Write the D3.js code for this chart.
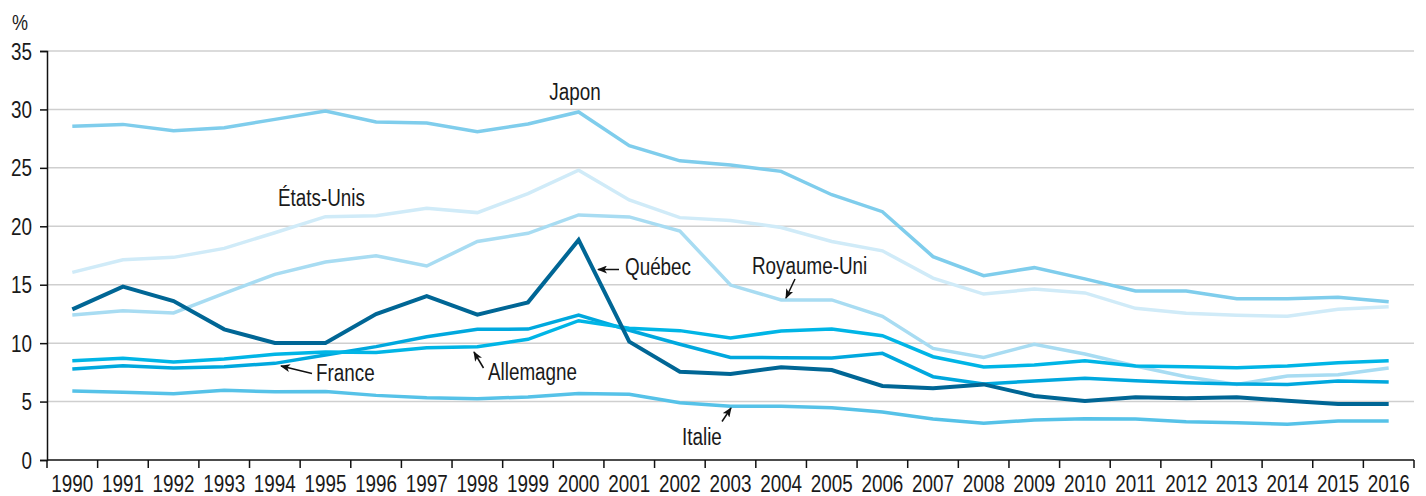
<!DOCTYPE html>
<html lang="fr">
<head>
    <meta charset="UTF-8">
    <title>Taux par pays, 1990-2016</title>
    <script src="https://d3js.org/d3.v7.min.js"></script>
    <style>
        body { margin: 0; background: #fff; }
        svg text { font-family: "Liberation Sans", Arial, sans-serif; fill: #1a1a1a; }
    </style>
</head>
<body>
    <svg id="chart" width="1426" height="496"></svg>
    <script>
        const years = d3.range(1990, 2017);
        const yTicks = [0, 5, 10, 15, 20, 25, 30, 35];

        const japon = [28.55, 28.72, 28.18, 28.44, 29.15, 29.87, 28.92, 28.84, 28.1, 28.75, 29.78, 26.9, 25.6, 25.24, 24.7, 22.7, 21.25, 17.4, 15.77, 16.46, 15.5, 14.46, 14.46, 13.8, 13.8, 13.92, 13.55];
        const etatsUnis = [16.06, 17.14, 17.34, 18.11, 19.45, 20.82, 20.9, 21.54, 21.17, 22.8, 24.8, 22.25, 20.74, 20.5, 19.9, 18.7, 17.9, 15.57, 14.2, 14.63, 14.3, 12.98, 12.55, 12.38, 12.3, 12.9, 13.12];
        const royaumeUni = [12.4, 12.78, 12.58, 14.26, 15.89, 16.94, 17.48, 16.6, 18.7, 19.4, 20.97, 20.8, 19.6, 14.97, 13.7, 13.7, 12.3, 9.55, 8.78, 9.9, 9.07, 8.04, 7.13, 6.47, 7.19, 7.3, 7.87];
        const quebec = [12.89, 14.83, 13.6, 11.18, 10.01, 10.01, 12.49, 14.03, 12.44, 13.49, 18.83, 10.13, 7.56, 7.36, 7.93, 7.7, 6.33, 6.13, 6.47, 5.48, 5.05, 5.36, 5.28, 5.36, 5.08, 4.79, 4.79];
        const allemagne = [8.5, 8.7, 8.39, 8.64, 9.04, 9.24, 9.19, 9.61, 9.7, 10.33, 11.92, 11.27, 11.07, 10.44, 11.04, 11.21, 10.64, 8.84, 7.96, 8.13, 8.5, 8.04, 7.99, 7.9, 8.04, 8.33, 8.5];
        const france = [7.79, 8.07, 7.87, 7.99, 8.27, 8.98, 9.7, 10.55, 11.18, 11.2, 12.41, 11.1, 9.9, 8.78, 8.76, 8.73, 9.13, 7.13, 6.5, 6.76, 6.99, 6.79, 6.62, 6.5, 6.47, 6.76, 6.67];
        const italie = [5.9, 5.79, 5.68, 5.96, 5.83, 5.87, 5.53, 5.33, 5.25, 5.39, 5.7, 5.62, 4.9, 4.59, 4.59, 4.48, 4.1, 3.5, 3.14, 3.42, 3.54, 3.51, 3.28, 3.19, 3.05, 3.34, 3.34];

        // drawing order: lightest at the back, Québec on top
        const series = [
            { name: 'États-Unis', values: etatsUnis, color: '#d0ebf8' },
            { name: 'Royaume-Uni', values: royaumeUni, color: '#a8dcf2' },
            { name: 'Japon', values: japon, color: '#7fcdec' },
            { name: 'Italie', values: italie, color: '#56c2e8' },
            { name: 'France', values: france, color: '#00a8de' },
            { name: 'Allemagne', values: allemagne, color: '#00b5e6' },
            { name: 'Québec', values: quebec, color: '#006695' }
        ];

        // labels: text position, optional arrow (from -> tip)
        const labels = [
            { text: 'Japon', x: 575, y: 100, anchor: 'middle' },
            { text: 'États-Unis', x: 278, y: 206 },
            { text: 'Québec', x: 625, y: 275, arrow: [619, 269.5, 598, 269.5] },
            { text: 'Royaume-Uni', x: 752, y: 274, arrow: [795, 279, 786, 298] },
            { text: 'France', x: 316, y: 381, arrow: [312, 373.5, 281, 366] },
            { text: 'Allemagne', x: 488, y: 380, arrow: [483.5, 368, 474, 352] },
            { text: 'Italie', x: 682, y: 445, arrow: [722, 421.5, 731, 408] }
        ];

        const mLeft = 47, mRight = 1414, mTop = 51, mBottom = 460;
        const narrow = 0.82; // condensed look from a regular face

        const svg = d3.select('#chart');

        const x = d3.scaleBand().domain(years).range([mLeft, mRight]).padding(0);
        const y = d3.scaleLinear().domain([0, 35]).range([mBottom, mTop]);
        const cx = d => x(d) + x.bandwidth() / 2;

        const placeText = (sel, px, py) => sel
            .attr('x', 0).attr('y', 0)
            .attr('transform', (d, i) => `translate(${px(d, i)},${py(d, i)}) scale(${narrow},1)`);

        svg.append('defs').append('marker')
            .attr('id', 'arrow')
            .attr('viewBox', '0 0 10 8')
            .attr('refX', 9)
            .attr('refY', 4)
            .attr('markerWidth', 10)
            .attr('markerHeight', 8)
            .attr('markerUnits', 'userSpaceOnUse')
            .attr('orient', 'auto')
            .append('path')
            .attr('d', 'M0,0 L10,4 L0,8 L2.5,4 Z')
            .attr('fill', '#111');

        // grid
        svg.append('g')
            .selectAll('line')
            .data(yTicks.filter(d => d > 0))
            .enter()
            .append('line')
            .attr('x1', mLeft)
            .attr('x2', mRight)
            .attr('y1', d => y(d))
            .attr('y2', d => y(d))
            .attr('stroke', '#cfcfcf')
            .attr('stroke-width', 1.5);

        // y axis
        const yAxis = svg.append('g')
            .attr('transform', `translate(${mLeft},0)`)
            .call(d3.axisLeft(y).tickValues(yTicks).tickSize(7).tickPadding(8));
        yAxis.attr('font-family', null).attr('font-size', null);
        yAxis.select('.domain').attr('stroke', '#111').attr('stroke-width', 1.5);
        yAxis.selectAll('.tick line').attr('stroke', '#111').attr('stroke-width', 1.5);
        yAxis.selectAll('.tick text')
            .attr('font-size', 23)
            .attr('fill', '#1a1a1a')
            .attr('x', -15 / narrow)
            .attr('dy', '0.35em')
            .attr('transform', `scale(${narrow},1)`);

        svg.append('text')
            .attr('font-size', 22)
            .call(placeText, () => 12, () => 30)
            .text('%');

        // x axis: ticks on band edges, labels centred
        const xAxis = svg.append('g')
            .attr('transform', `translate(0,${mBottom})`);
        xAxis.append('line')
            .attr('x1', mLeft)
            .attr('x2', mRight)
            .attr('stroke', '#111')
            .attr('stroke-width', 1.5);
        xAxis.selectAll('line.tk')
            .data(years.concat([2017]))
            .enter()
            .append('line')
            .attr('class', 'tk')
            .attr('x1', d => d === 2017 ? mRight : x(d))
            .attr('x2', d => d === 2017 ? mRight : x(d))
            .attr('y1', 0)
            .attr('y2', 8)
            .attr('stroke', '#111')
            .attr('stroke-width', 1.5);
        xAxis.selectAll('text')
            .data(years)
            .enter()
            .append('text')
            .attr('text-anchor', 'middle')
            .attr('font-size', 23)
            .call(placeText, d => cx(d), () => 32)
            .text(d => d);

        // lines
        const line = d3.line()
            .x((d, i) => cx(years[i]))
            .y(d => y(d));

        svg.append('g')
            .selectAll('path')
            .data(series)
            .enter()
            .append('path')
            .attr('d', d => line(d.values))
            .attr('fill', 'none')
            .attr('stroke', d => d.color)
            .attr('stroke-width', d => d.name === 'Québec' ? 4 : 3.5)
            .attr('stroke-linejoin', 'miter');

        // annotations
        const ann = svg.append('g');
        ann.selectAll('text')
            .data(labels)
            .enter()
            .append('text')
            .attr('text-anchor', d => d.anchor || 'start')
            .attr('font-size', 23)
            .call(placeText, d => d.x, d => d.y)
            .text(d => d.text);
        ann.selectAll('line')
            .data(labels.filter(d => d.arrow))
            .enter()
            .append('line')
            .attr('x1', d => d.arrow[0])
            .attr('y1', d => d.arrow[1])
            .attr('x2', d => d.arrow[2])
            .attr('y2', d => d.arrow[3])
            .attr('stroke', '#111')
            .attr('stroke-width', 1.5)
            .attr('marker-end', 'url(#arrow)');
    </script>
</body>
</html>
